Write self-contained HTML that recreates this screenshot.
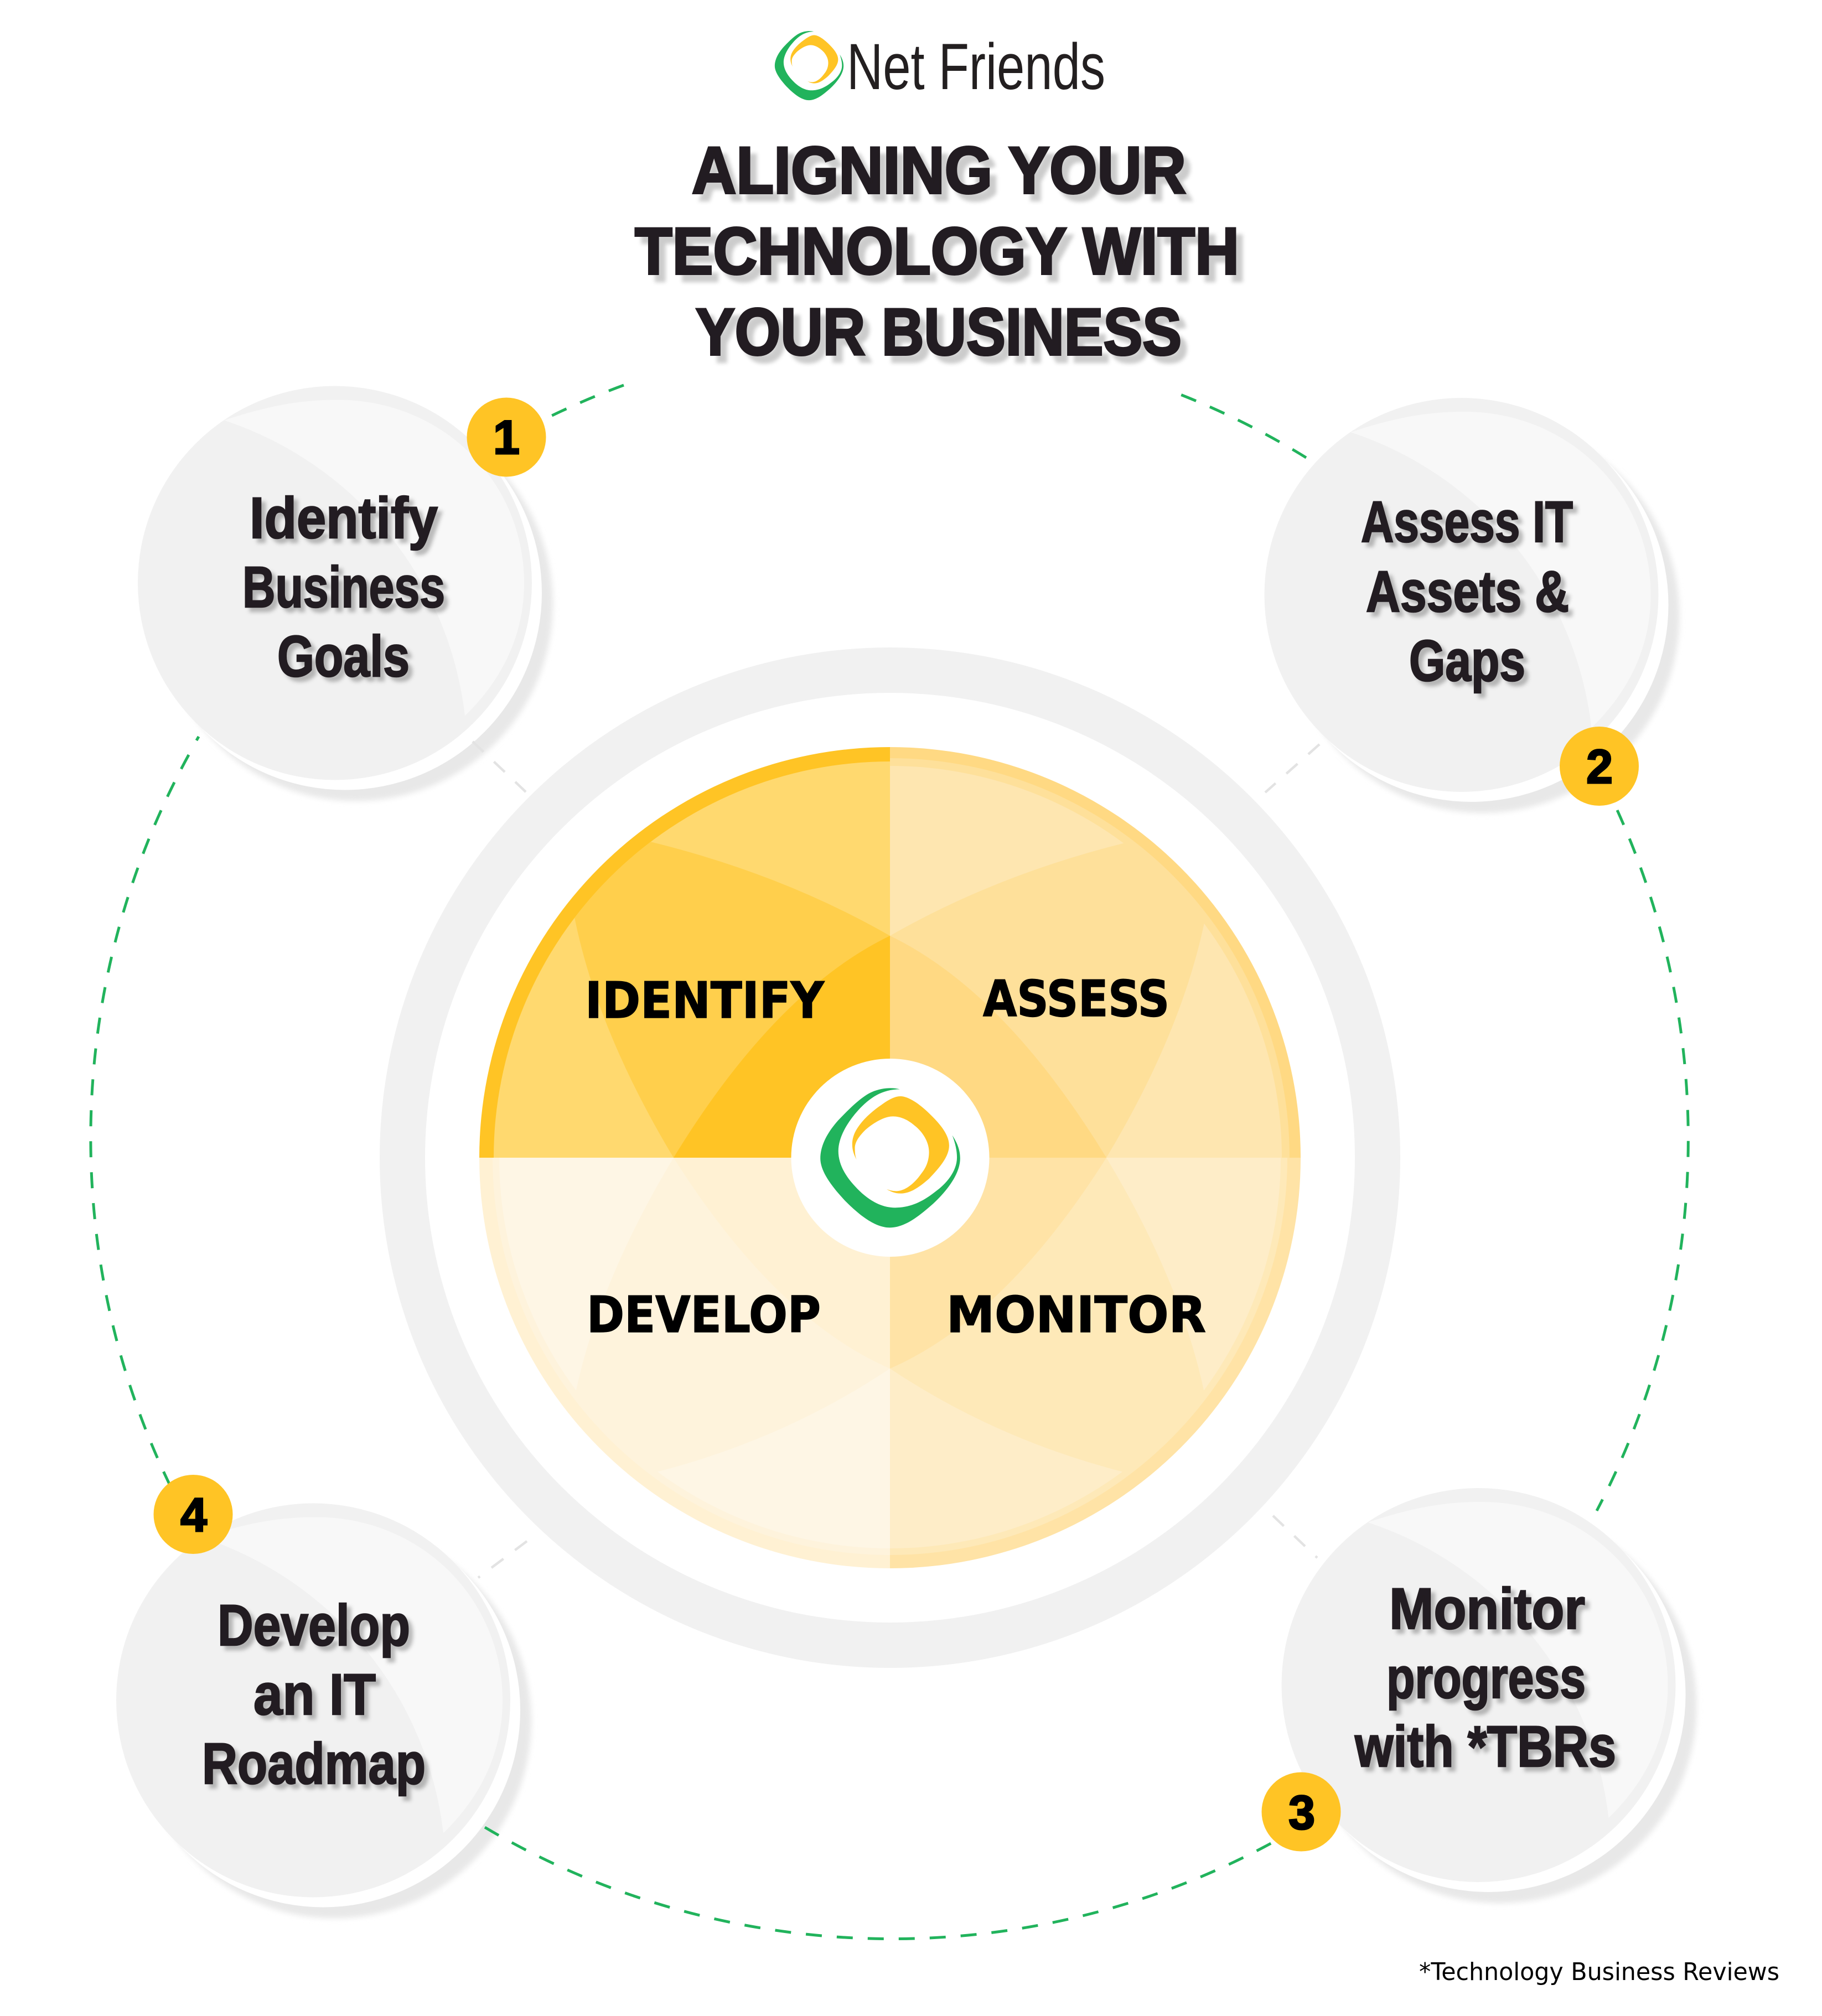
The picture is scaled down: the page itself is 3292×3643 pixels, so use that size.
<!DOCTYPE html>
<html lang="en"><head><meta charset="utf-8"><title>Aligning Your Technology With Your Business</title>
<style>
html,body{margin:0;padding:0;background:#fff;width:3292px;height:3643px;overflow:hidden}
svg{display:block}
.t{font-family:"Liberation Sans",sans-serif;font-weight:700;fill:#231F20;stroke:#231F20}
.p{font-family:"DejaVu Sans","Liberation Sans",sans-serif;font-weight:700;fill:#000;stroke:#000;stroke-width:1.5px;font-size:90px}
.n{font-family:"Liberation Sans",sans-serif;font-weight:700;fill:#000;stroke:#000;stroke-width:3px;font-size:86px;text-anchor:middle}
</style></head><body>
<svg xmlns="http://www.w3.org/2000/svg" width="3292" height="3643" viewBox="0 0 3292 3643">
<defs>
<filter id="ts" x="-10%" y="-20%" width="120%" height="150%"><feDropShadow dx="12" dy="13" stdDeviation="3.5" flood-color="#000" flood-opacity=".2"/></filter>
<filter id="ls" x="-10%" y="-20%" width="120%" height="150%"><feDropShadow dx="8" dy="8" stdDeviation="3.5" flood-color="#000" flood-opacity=".25"/></filter>
<filter id="ds" x="-10%" y="-10%" width="120%" height="120%"><feGaussianBlur stdDeviation="5"/></filter>
<clipPath id="inner"><circle r="716"/></clipPath>
<g id="logo">
<path fill="#21B35C" d="M852 505 C820 495 770 495 720 520 C670 545 610 615 560 675 C510 740 477 810 477 880 C477 950 530 1030 590 1105 C650 1175 730 1255 805 1255 C880 1255 950 1185 1010 1125 C1080 1050 1137 960 1137 880 C1137 830 1120 790 1100 755 C1115 800 1122 840 1122 875 C1122 950 1070 1020 1020 1060 C960 1115 900 1147 830 1147 C760 1147 695 1100 640 1030 C595 975 562 910 562 840 C562 770 600 690 655 620 C710 550 770 505 852 505 Z"/>
<path fill="#FFC425" d="M648 887 C625 840 620 790 640 740 C665 680 720 625 765 590 C800 560 830 543 855 543 C895 543 950 590 990 635 C1040 690 1085 750 1085 810 C1085 870 1040 930 990 990 C940 1040 900 1070 855 1070 C830 1070 810 1060 790 1047 C810 1055 825 1057 835 1057 C880 1057 925 1010 955 960 C980 925 990 885 990 845 C990 790 960 735 920 700 C890 670 855 652 820 652 C780 652 730 685 690 725 C660 760 640 790 640 825 C640 850 642 870 648 887 Z"/>
</g>
<g id="disc">
<circle cx="38" cy="38" r="356" fill="#E8E8E8" filter="url(#ds)"/>
<circle cx="18" cy="18" r="356" fill="#fff"/>
<circle r="356" fill="#F1F1F1"/>
<path fill="#F8F8F8" d="M-200 -294 C-125 -319 -65 -331 5 -331 C195 -331 342 -183 342 0 C342 97 300 177 235 240 A640 640 0 0 0 -200 -294 Z"/>
</g>
</defs>
<rect width="3292" height="3643" fill="#fff"/>

<!-- top logo -->
<use href="#logo" transform="translate(1462 118.5) scale(.1883 .1653) translate(-807 -876)"/>
<text x="1530" y="161" textLength="467" lengthAdjust="spacingAndGlyphs" font-family="'Liberation Sans Narrow','Liberation Sans',sans-serif" font-size="118" fill="#231F20">Net Friends</text>

<!-- title -->
<g filter="url(#ts)" class="t" font-size="120" style="stroke-width:4px">
<text x="1250" y="349" textLength="893" lengthAdjust="spacingAndGlyphs">ALIGNING YOUR</text>
<text x="1147" y="495" textLength="1092" lengthAdjust="spacingAndGlyphs">TECHNOLOGY WITH</text>
<text x="1257" y="641" textLength="878" lengthAdjust="spacingAndGlyphs">YOUR BUSINESS</text>
</g>

<!-- big ring -->
<circle cx="1608" cy="2092" r="881" fill="none" stroke="#F1F1F1" stroke-width="82"/>

<!-- green dashed arcs under discs -->
<g fill="none" stroke="#21B35C" stroke-width="5" stroke-dasharray="29 27">
<path d="M1127 696 A1444 1444 0 0 0 985 757"/>
<path d="M2360 827 A1444 1444 0 0 0 2133 713"/>
<path d="M2922 1464 A1444 1444 0 0 1 2885 2730"/>
<path d="M341 1364 A1444 1444 0 0 0 320 2710"/>
<path d="M355 1338 L359 1331" stroke-dasharray="none"/>
</g>

<!-- step discs -->
<use href="#disc" transform="translate(605 1053.5)"/>
<use href="#disc" transform="translate(2640.5 1075)"/>
<use href="#disc" transform="translate(2671.5 3045)"/>
<use href="#disc" transform="translate(566 3072.5)"/>

<!-- bottom green arc, above disc shadow -->
<path fill="none" stroke="#21B35C" stroke-width="5" stroke-dasharray="29 27" d="M876 3302 A1444 1444 0 0 0 2320 3318"/>

<!-- grey dashed connectors -->
<g fill="none" stroke="#E3E3E3" stroke-width="4.5" stroke-dasharray="27 26">
<path d="M854 1340 L950 1431"/>
<path d="M2384 1345 L2286 1432"/>
<path d="M2300 2739 L2380 2815"/>
<path d="M952 2785 L864 2851"/>
</g>

<g filter="url(#ls)" class="t" font-size="105" style="stroke-width:2.5px">
<text x="451" y="972" textLength="340" lengthAdjust="spacingAndGlyphs">Identify</text>
<text x="438" y="1097" textLength="366" lengthAdjust="spacingAndGlyphs">Business</text>
<text x="501" y="1222" textLength="239" lengthAdjust="spacingAndGlyphs">Goals</text>
<text x="2459" y="979" textLength="383" lengthAdjust="spacingAndGlyphs">Assess IT</text>
<text x="2468" y="1105" textLength="367" lengthAdjust="spacingAndGlyphs">Assets &amp;</text>
<text x="2546" y="1230" textLength="210" lengthAdjust="spacingAndGlyphs">Gaps</text>
<text x="2510" y="2943" textLength="354" lengthAdjust="spacingAndGlyphs">Monitor</text>
<text x="2505" y="3068" textLength="360" lengthAdjust="spacingAndGlyphs">progress</text>
<text x="2448" y="3192" textLength="472" lengthAdjust="spacingAndGlyphs">with *TBRs</text>
<text x="393" y="2973" textLength="348" lengthAdjust="spacingAndGlyphs">Develop</text>
<text x="458" y="3098" textLength="221" lengthAdjust="spacingAndGlyphs">an IT</text>
<text x="365" y="3223" textLength="404" lengthAdjust="spacingAndGlyphs">Roadmap</text>
</g>

<!-- pie -->
<g transform="translate(1608 2092)">
<g>
<path fill="#FFC425" d="M0 0V-742A742 742 0 0 0 -742 0Z"/>
<path fill="#FFD96F" d="M0 0V-716A716 716 0 0 0 -716 0Z"/>
<path fill="#FFCF4C" clip-path="url(#inner)" d="M0 -401Q-208 -520 -463 -578L-573 -450Q-534 -238 -391 0L0 0Z"/>
<path fill="#FFC425" d="M0 -401Q-207 -301 -391 0L0 0Z"/>
</g>
<g transform="scale(-1 1)">
<path fill="#FFD983" d="M0 0V-742A742 742 0 0 0 -742 0Z"/>
<path fill="#FEE09A" d="M0 0V-722A722 722 0 0 0 -722 0Z"/>
<path fill="#FEE6B0" d="M0 0V-708A708 708 0 0 0 -708 0Z"/>
<path fill="#FEE09A" clip-path="url(#inner)" d="M0 -401Q-208 -520 -463 -578L-573 -450Q-534 -238 -391 0L0 0Z"/>
<path fill="#FFD983" d="M0 -401Q-207 -301 -391 0L0 0Z"/>
</g>
<g transform="scale(-1 -1)">
<path fill="#FFE3A6" d="M0 0V-742A742 742 0 0 0 -742 0Z"/>
<path fill="#FEE9B8" d="M0 0V-718A718 718 0 0 0 -718 0Z"/>
<path fill="#FEEDC8" d="M0 0V-706A706 706 0 0 0 -706 0Z"/>
<path fill="#FEE9B8" clip-path="url(#inner)" d="M0 -381Q-208 -520 -463 -578L-573 -450Q-534 -238 -391 0L0 0Z"/>
<path fill="#FFE3A6" d="M0 -381Q-207 -291 -391 0L0 0Z"/>
</g>
<g transform="scale(1 -1)">
<path fill="#FFF1D3" d="M0 0V-742A742 742 0 0 0 -742 0Z"/>
<path fill="#FEF3DC" d="M0 0V-718A718 718 0 0 0 -718 0Z"/>
<path fill="#FEF6E5" d="M0 0V-706A706 706 0 0 0 -706 0Z"/>
<path fill="#FEF3DC" clip-path="url(#inner)" d="M0 -381Q-208 -520 -463 -578L-573 -450Q-534 -238 -391 0L0 0Z"/>
<path fill="#FFF1D3" d="M0 -381Q-207 -291 -391 0L0 0Z"/>
</g>
</g>
<circle cx="1608.5" cy="2092" r="179" fill="#fff"/>
<use href="#logo" transform="translate(1608.5 2092) scale(.3827 .3333) translate(-807 -876)"/>

<text class="p" x="1057" y="1839" textLength="432" lengthAdjust="spacingAndGlyphs">IDENTIFY</text>
<text class="p" x="1776" y="1836" textLength="337" lengthAdjust="spacingAndGlyphs">ASSESS</text>
<text class="p" x="1060" y="2407" textLength="423" lengthAdjust="spacingAndGlyphs">DEVELOP</text>
<text class="p" x="1710" y="2407" textLength="469" lengthAdjust="spacingAndGlyphs">MONITOR</text>

<!-- badges -->
<g fill="#FFC425">
<circle cx="915" cy="790" r="71.5"/>
<circle cx="2889.5" cy="1384.5" r="71.5"/>
<circle cx="2351" cy="3274" r="71.5"/>
<circle cx="349" cy="2736.5" r="71.5"/>
</g>
<text class="n" x="915" y="820">1</text>
<text class="n" x="2890" y="1415">2</text>
<text class="n" x="2352" y="3305">3</text>
<text class="n" x="350" y="2767">4</text>

<text x="2564" y="3578" textLength="651" lengthAdjust="spacingAndGlyphs" font-family="'DejaVu Sans','Liberation Sans',sans-serif" font-size="44" fill="#000">*Technology Business Reviews</text>
</svg>
</body></html>
